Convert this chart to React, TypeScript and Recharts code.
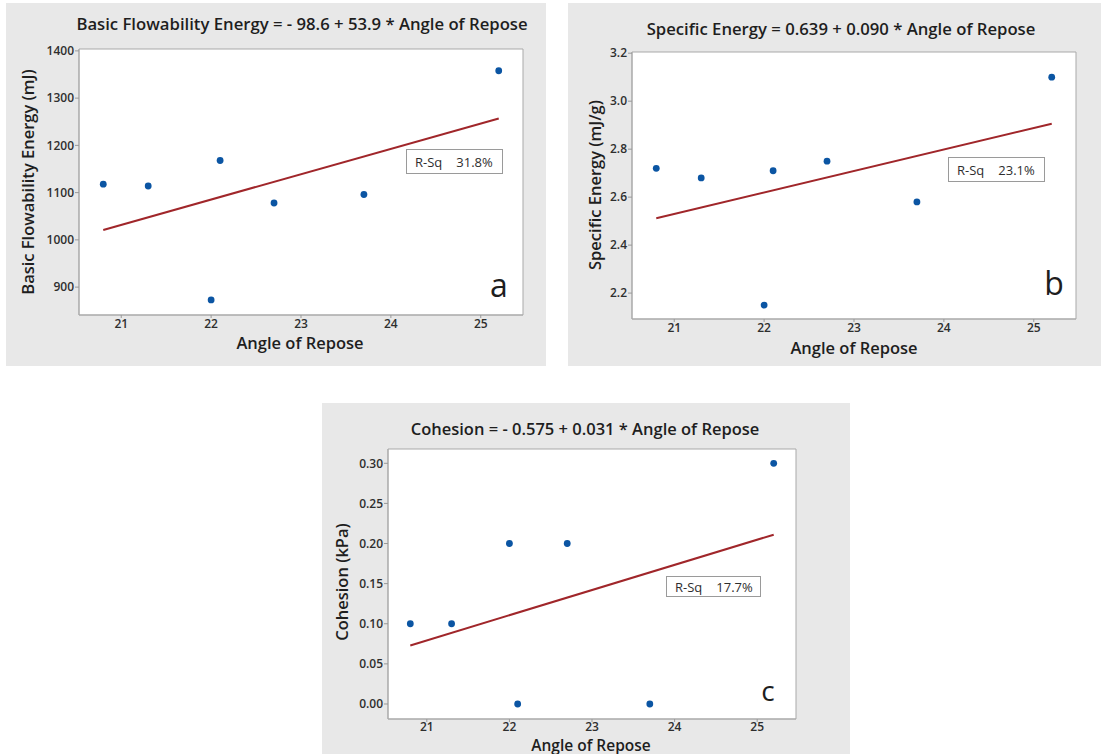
import React from 'react';
import { ScatterChart, Scatter, XAxis, YAxis, CartesianGrid, ReferenceArea } from 'recharts';

// values
const angleOfRepose = [20.8, 21.3, 22.0, 22.1, 22.7, 23.7, 25.2];
const basicFlowEnergy = [1118, 1114, 873, 1168, 1078, 1096, 1358];
const specificEnergy = [2.72, 2.68, 2.15, 2.71, 2.75, 2.58, 3.1];
const cohesion = [0.1, 0.1, 0.2, 0.0, 0.2, 0.0, 0.3];

const fitAngle = [20.8, 25.2];
const bfeFit = [1021, 1257];
const seFit = [2.512, 2.906];
const cohFit = [0.073, 0.211];

const angleTicks = [21, 22, 23, 24, 25];
const bfeTicks = [900, 1000, 1100, 1200, 1300, 1400];
const seTicks = [2.2, 2.4, 2.6, 2.8, 3.0, 3.2];
const cohTicks = [0, 0.05, 0.1, 0.15, 0.2, 0.25, 0.3];

const FONT = '"Open Sans", "Noto Sans", sans-serif';
const DOT = '#0b55a3';
const FIT = '#a0262a';
const PANEL_BG = '#e8e8e8';
const BORDER = '#a9a9a9';

const toPoints = (xs: number[], ys: number[]) => xs.map((x, i) => ({ x, y: ys[i] }));

interface PanelProps {
  left: number;
  top: number;
  width: number;
  height: number;
  plot: { left: number; top: number; width: number; height: number };
  yDomain: [number, number];
  yTicks: number[];
  yFmt: (v: number) => string;
  points: { x: number; y: number }[];
  fit: { x: number; y: number }[];
  xTickMargin?: number;
}

const xDomain: [number, number] = [20.53, 25.47];

const Panel = ({ left, top, width, height, plot, yDomain, yTicks, yFmt, points, fit, xTickMargin = 1 }: PanelProps) => {
  const tickStyle = { fontSize: 12, fill: '#2e2e2e', fontWeight: 600, fontFamily: FONT };
  return (
    <div style={{ position: 'absolute', left, top, width, height, background: PANEL_BG }}>
      <ScatterChart
        width={width}
        height={height}
        margin={{ top: plot.top, left: 0, right: width - plot.left - plot.width, bottom: 0 }}
      >
        <CartesianGrid horizontal={false} vertical={false} fill="#fff" />
        <XAxis
          type="number"
          dataKey="x"
          domain={xDomain}
          allowDataOverflow
          ticks={angleTicks}
          interval={0}
          height={height - plot.top - plot.height}
          tick={tickStyle}
          tickSize={3}
          tickMargin={xTickMargin}
          tickLine={{ stroke: '#999' }}
          axisLine={{ stroke: BORDER }}
        />
        <YAxis
          type="number"
          dataKey="y"
          domain={yDomain}
          allowDataOverflow
          ticks={yTicks}
          interval={0}
          width={plot.left}
          tick={tickStyle}
          tickFormatter={yFmt}
          tickSize={4}
          tickMargin={1}
          tickLine={{ stroke: '#999' }}
          axisLine={{ stroke: BORDER }}
        />
        <ReferenceArea
          x1={xDomain[0]}
          x2={xDomain[1]}
          y1={yDomain[0]}
          y2={yDomain[1]}
          fill="#fff"
          fillOpacity={0}
          stroke={BORDER}
          strokeWidth={1}
        />
        <Scatter
          data={fit}
          line={{ stroke: FIT, strokeWidth: 2 }}
          shape={() => <g />}
          isAnimationActive={false}
        />
        <Scatter
          data={points}
          isAnimationActive={false}
          shape={(p: any) => <circle cx={p.cx} cy={p.cy} r={3.4} fill={DOT} />}
        />
      </ScatterChart>
    </div>
  );
};

const Text = ({ x, y, size, weight = 600, rotate = 0, children }: any) => (
  <div
    style={{
      position: 'absolute',
      left: x,
      top: y,
      transform: `translate(-50%, -50%) rotate(${rotate}deg)`,
      fontFamily: FONT,
      fontSize: size,
      fontWeight: weight,
      color: '#1e1e1e',
      whiteSpace: 'nowrap',
      lineHeight: 1,
    }}
  >
    {children}
  </div>
);

const RSq = ({ x, y, w, h, value }: any) => (
  <div
    style={{
      position: 'absolute',
      left: x,
      top: y,
      width: w,
      height: h,
      boxSizing: 'border-box',
      border: '1px solid #9a9a9a',
      background: '#fff',
      fontFamily: FONT,
      fontSize: 13,
      color: '#2e2e2e',
      display: 'flex',
      alignItems: 'center',
      paddingLeft: 8,
      whiteSpace: 'nowrap',
    }}
  >
    <span>R-Sq</span>
    <span style={{ marginLeft: 14 }}>{value}</span>
  </div>
);

export default function App() {
  return (
    <div style={{ position: 'absolute', left: 0, top: 0, width: 1104, height: 754, background: '#fff', overflow: 'hidden' }}>
      <Panel
        left={6}
        top={3}
        width={540}
        height={363}
        plot={{ left: 73, top: 46, width: 444, height: 266 }}
        yDomain={[841, 1404]}
        yTicks={bfeTicks}
        yFmt={(v) => String(v)}
        points={toPoints(angleOfRepose, basicFlowEnergy)}
        fit={toPoints(fitAngle, bfeFit)}
      />
      <Panel
        left={568}
        top={3}
        width={533}
        height={363}
        plot={{ left: 64, top: 49, width: 444, height: 267 }}
        yDomain={[2.092, 3.205]}
        yTicks={seTicks}
        yFmt={(v) => v.toFixed(1)}
        points={toPoints(angleOfRepose, specificEnergy)}
        fit={toPoints(fitAngle, seFit)}
      />
      <Panel
        left={322}
        top={403}
        width={528}
        height={351}
        plot={{ left: 66, top: 46, width: 408, height: 270 }}
        yDomain={[-0.0187, 0.3178]}
        yTicks={cohTicks}
        yFmt={(v) => v.toFixed(2)}
        points={toPoints(angleOfRepose, cohesion)}
        fit={toPoints(fitAngle, cohFit)}
        xTickMargin={0}
      />

      <Text x={302} y={24} size={16.7}>Basic Flowability Energy = - 98.6 + 53.9 * Angle of Repose</Text>
      <Text x={300} y={343} size={16.5}>Angle of Repose</Text>
      <Text x={28} y={182} size={16.5} rotate={-90}>Basic Flowability Energy (mJ)</Text>
      <Text x={499} y={285} size={32} weight={400}>a</Text>
      <RSq x={406} y={149} w={97} h={25} value="31.8%" />

      <Text x={841} y={29} size={16.7}>Specific Energy = 0.639 + 0.090 * Angle of Repose</Text>
      <Text x={854} y={348} size={16.5}>Angle of Repose</Text>
      <Text x={595} y={185} size={16.5} rotate={-90}>Specific Energy (mJ/g)</Text>
      <Text x={1054} y={283} size={32} weight={400}>b</Text>
      <RSq x={948} y={157} w={97} h={25} value="23.1%" />

      <Text x={585} y={429} size={16.5}>Cohesion = - 0.575 + 0.031 * Angle of Repose</Text>
      <Text x={591} y={745.5} size={15.5}>Angle of Repose</Text>
      <Text x={342} y={582} size={16.5} rotate={-90}>Cohesion (kPa)</Text>
      <Text x={768} y={690} size={28} weight={400}>c</Text>
      <RSq x={666} y={576} w={95} h={21} value="17.7%" />
    </div>
  );
}
